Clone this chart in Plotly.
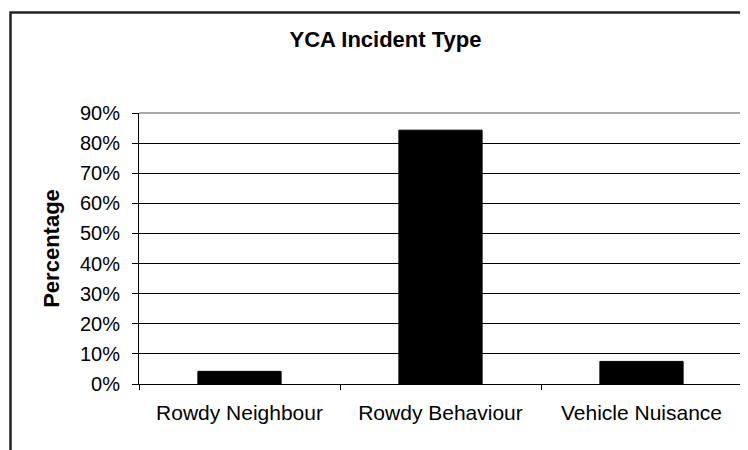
import plotly.graph_objects as go

# chart data
categories = ["Rowdy Neighbour", "Rowdy Behaviour", "Vehicle Nuisance"]
percentages = [0.042, 0.843, 0.075]
y_ticks = [0, 0.1, 0.2, 0.3, 0.4, 0.5, 0.6, 0.7, 0.8, 0.9]

font_name = "Liberation Sans, Arial, sans-serif"

W, H = 748, 450
L, R, T, B = 131, 14, 105, 74
pw, ph = W - L - R, H - T - B


def px_x(x):
    return (x - L) / pw


def px_y(y):
    return (H - B - y) / ph


fig = go.Figure()
fig.add_trace(go.Bar(
    x=categories,
    y=percentages,
    marker=dict(color="black", line=dict(color="black", width=1)),
))

fig.update_layout(
    width=W, height=H,
    margin=dict(l=L, r=R, t=T, b=B),
    paper_bgcolor="white",
    plot_bgcolor="white",
    showlegend=False,
    bargap=0.586,
    font=dict(family=font_name, size=20, color="black"),
    title=dict(
        text="<b>YCA Incident Type</b>",
        x=377.5 / W, xanchor="center",
        y=1 - 31 / H, yanchor="middle",
        font=dict(family=font_name, size=22, color="black"),
    ),
)

fig.update_xaxes(
    showline=True, linecolor="black", linewidth=1,
    ticks="outside", tickson="boundaries", ticklen=5, tickcolor="black",
    ticklabelstandoff=10,
    showgrid=False,
    tickfont=dict(size=21),
)
fig.update_yaxes(
    range=[0, 0.9],
    tickvals=y_ticks, tickformat=".0%",
    showline=True, linecolor="black", linewidth=1,
    ticks="outside", ticklen=6, tickcolor="black",
    ticklabelstandoff=8,
    showgrid=True, gridcolor="black", gridwidth=1,
    zeroline=False,
    tickfont=dict(size=20),
    title=dict(text="<b>Percentage</b>", font=dict(size=22), standoff=14),
)

# grey plot-area border on top and right
fig.add_shape(type="line", xref="paper", yref="paper", x0=0, x1=1, y0=1, y1=1,
              line=dict(color="#8c8c8c", width=1.5), layer="above")
fig.add_shape(type="line", xref="paper", yref="paper", x0=1, x1=1, y0=0, y1=1,
              line=dict(color="#8c8c8c", width=1.5), layer="above")

# outer chart border (runs off the right and bottom of the picture)
fig.add_shape(type="rect", xref="paper", yref="paper",
              x0=px_x(2.5), x1=px_x(770),
              y0=px_y(470), y1=px_y(4.5),
              line=dict(color="#222222", width=2.5), layer="above")

fig.write_html("out.html")
